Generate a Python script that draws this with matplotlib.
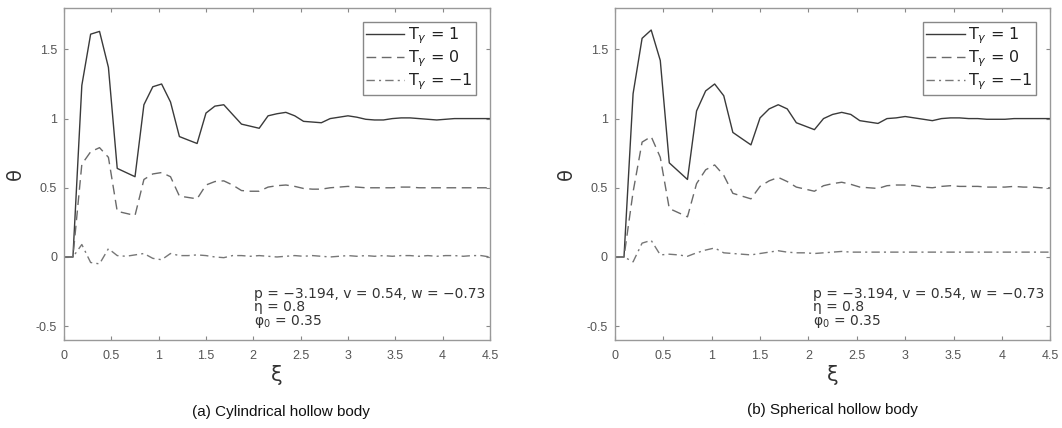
import matplotlib
matplotlib.use("Agg")
import matplotlib.pyplot as plt

# xi grid
xi = [0.0, 0.094, 0.188, 0.281, 0.375, 0.469, 0.562, 0.656, 0.75, 0.844,
      0.938, 1.031, 1.125, 1.219, 1.312, 1.406, 1.5, 1.594, 1.688, 1.781,
      1.875, 1.969, 2.062, 2.156, 2.25, 2.344, 2.438, 2.531, 2.625, 2.719,
      2.812, 2.906, 3.0, 3.094, 3.188, 3.281, 3.375, 3.469, 3.562, 3.656,
      3.75, 3.844, 3.938, 4.031, 4.125, 4.219, 4.312, 4.406, 4.5]

# (a) cylindrical hollow body
cyl_t1 = [0, 0, 1.24, 1.61, 1.63, 1.37, 0.64, 0.61, 0.58, 1.10,
          1.23, 1.25, 1.12, 0.87, 0.845, 0.82, 1.04, 1.09, 1.10, 1.03,
          0.96, 0.945, 0.93, 1.02, 1.035, 1.045, 1.02, 0.98, 0.975, 0.97,
          1.00, 1.01, 1.02, 1.01, 0.995, 0.99, 0.99, 1.0, 1.005, 1.005,
          1.0, 0.995, 0.99, 0.995, 1.0, 1.0, 1.0, 1.0, 1.0]
cyl_t0 = [0, 0, 0.67, 0.76, 0.79, 0.72, 0.33, 0.315, 0.30, 0.56,
          0.60, 0.61, 0.58, 0.44, 0.43, 0.42, 0.52, 0.545, 0.55, 0.52,
          0.48, 0.475, 0.475, 0.505, 0.515, 0.52, 0.51, 0.495, 0.49, 0.49,
          0.50, 0.505, 0.51, 0.505, 0.50, 0.50, 0.50, 0.50, 0.505, 0.505,
          0.50, 0.50, 0.50, 0.50, 0.50, 0.50, 0.50, 0.50, 0.50]
cyl_tm1 = [0, 0, 0.09, -0.04, -0.05, 0.06, 0.01, 0.005, 0.015, 0.025,
           -0.01, -0.02, 0.025, 0.01, 0.01, 0.015, 0.01, 0.0, -0.005, 0.01,
           0.01, 0.005, 0.01, 0.005, 0.0, 0.005, 0.01, 0.005, 0.01, 0.005,
           0.0, 0.005, 0.01, 0.005, 0.01, 0.005, 0.01, 0.005, 0.01, 0.01,
           0.005, 0.01, 0.005, 0.01, 0.01, 0.005, 0.01, 0.01, 0.0]

# (b) spherical hollow body
sph_t1 = [0, 0, 1.18, 1.58, 1.64, 1.42, 0.68, 0.62, 0.56, 1.055,
          1.20, 1.25, 1.165, 0.90, 0.855, 0.81, 1.005, 1.07, 1.10, 1.07,
          0.97, 0.945, 0.92, 1.0, 1.03, 1.045, 1.03, 0.985, 0.975, 0.965,
          1.0, 1.005, 1.015, 1.005, 0.995, 0.985, 1.0, 1.005, 1.005, 1.0,
          1.0, 0.995, 0.995, 0.995, 1.0, 1.0, 1.0, 1.0, 1.0]
sph_t0 = [0, 0, 0.47, 0.83, 0.87, 0.72, 0.35, 0.32, 0.29, 0.53,
          0.63, 0.665, 0.59, 0.46, 0.44, 0.42, 0.51, 0.55, 0.575, 0.545,
          0.505, 0.49, 0.475, 0.515, 0.53, 0.54, 0.525, 0.505, 0.50, 0.495,
          0.515, 0.52, 0.52, 0.515, 0.505, 0.50, 0.51, 0.515, 0.51, 0.51,
          0.51, 0.505, 0.505, 0.505, 0.51, 0.505, 0.505, 0.50, 0.50]
sph_tm1 = [0, 0, -0.035, 0.10, 0.12, 0.015, 0.02, 0.015, 0.005, 0.03,
           0.05, 0.065, 0.03, 0.025, 0.02, 0.015, 0.025, 0.035, 0.045, 0.035,
           0.03, 0.03, 0.025, 0.03, 0.035, 0.04, 0.035, 0.035, 0.035, 0.035,
           0.035, 0.035, 0.035, 0.035, 0.035, 0.035, 0.035, 0.035, 0.035, 0.035,
           0.035, 0.035, 0.035, 0.035, 0.035, 0.035, 0.035, 0.035, 0.035]

labels = ["T$_\\gamma$ = 1", "T$_\\gamma$ = 0", "T$_\\gamma$ = \u22121"]
captions = ["(a) Cylindrical hollow body", "(b) Spherical hollow body"]
params = "p = \u22123.194, v = 0.54, w = \u22120.73\n\u03b7 = 0.8\n\u03c6$_0$ = 0.35"

fig = plt.figure(figsize=(10.62, 4.28), dpi=100)
ax1 = fig.add_axes([0.0603, 0.2056, 0.401, 0.776])
ax2 = fig.add_axes([0.579, 0.2056, 0.410, 0.776])

panels = [(ax1, cyl_t1, cyl_t0, cyl_tm1), (ax2, sph_t1, sph_t0, sph_tm1)]
for i, (ax, a, b, c) in enumerate(panels):
    ax.plot(xi, a, color="#3a3a3a", lw=1.0, ls="-", label=labels[0])
    ax.plot(xi, b, color="#6a6a6a", lw=1.0, ls=(0, (7, 4)), label=labels[1])
    ax.plot(xi, c, color="#777777", lw=1.0, ls=(0, (6, 3, 1.5, 3)), label=labels[2])
    ax.set_xlim(0, 4.5)
    ax.set_ylim(-0.6, 1.8)
    ax.set_xticks([0, 0.5, 1, 1.5, 2, 2.5, 3, 3.5, 4, 4.5])
    ax.set_xticklabels(["0", "0.5", "1", "1.5", "2", "2.5", "3", "3.5", "4", "4.5"])
    ax.set_yticks([-0.5, 0, 0.5, 1, 1.5])
    ax.set_yticklabels(["-0.5", "0", "0.5", "1", "1.5"])
    ax.tick_params(direction="in", top=True, right=True, length=3, width=0.8,
                   color="#888888", labelcolor="#555555", labelsize=9)
    ax.tick_params(axis="x", pad=7)
    ax.tick_params(axis="y", pad=5)
    for lab in ax.get_xticklabels() + ax.get_yticklabels():
        lab.set_family("Liberation Sans")
    for sp in ax.spines.values():
        sp.set_color("#999999")
        sp.set_linewidth(1.0)
    ax.set_xlabel("\u03be", fontsize=15, color="#333333", labelpad=2)
    ax.set_ylabel("\u03b8", fontsize=14, color="#333333", labelpad=8)
    leg = ax.legend(loc="upper right", fontsize=11.5, handlelength=2.4,
                    handletextpad=0.2, labelspacing=0.15, borderpad=0.2,
                    borderaxespad=0.9, fancybox=False, framealpha=1)
    leg.get_frame().set_edgecolor("#888888")
    leg.get_frame().set_linewidth(1.0)
    for t in leg.get_texts():
        t.set_color("#222222")
    ax.text(0.445 if i == 0 else 0.455, 0.03, params, transform=ax.transAxes,
            fontsize=10, color="#333333", linespacing=0.9, va="bottom")

fig.text(0.2646, 0.037, captions[0], ha="center", va="center", fontsize=11,
         family="Liberation Sans", color="#111111")
fig.text(0.784, 0.042, captions[1], ha="center", va="center", fontsize=11,
         family="Liberation Sans", color="#111111")

fig.savefig("out.png", dpi=100)
